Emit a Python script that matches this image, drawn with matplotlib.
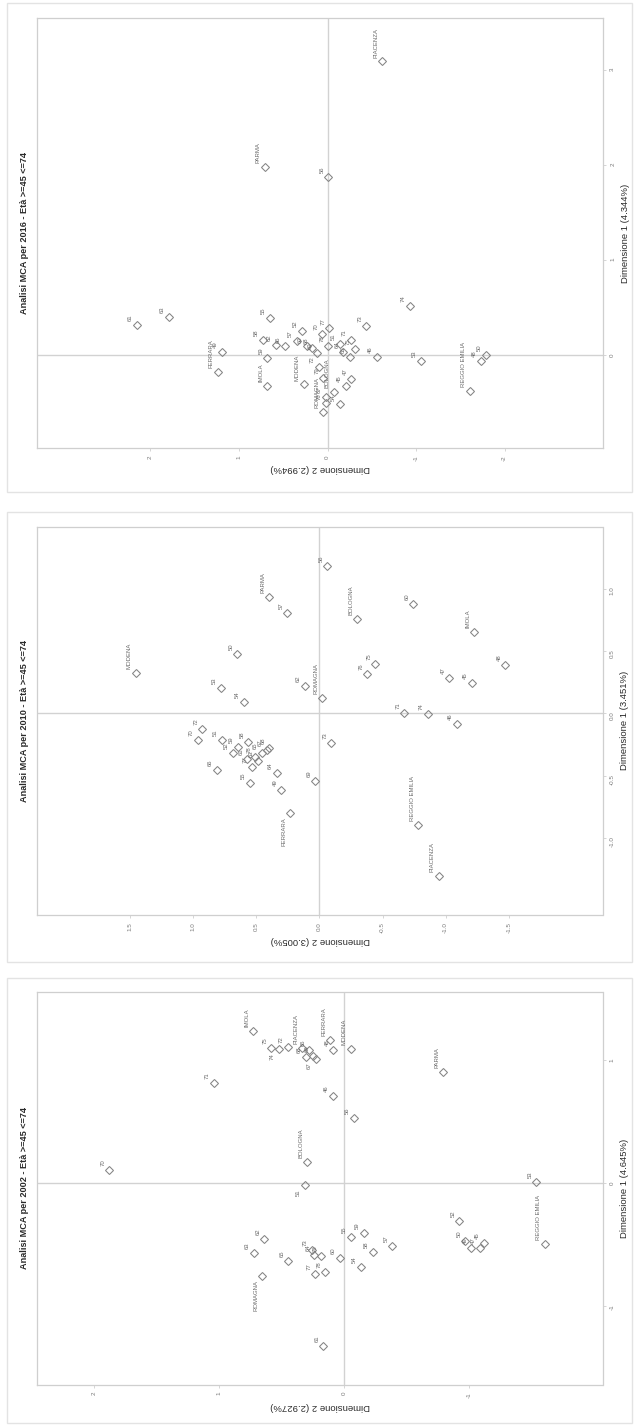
import matplotlib
matplotlib.use('Agg')
import matplotlib.pyplot as plt
from matplotlib.patches import Rectangle

plt.rcParams['font.family'] = ['Liberation Sans', 'DejaVu Sans']

# ---------------- data (Dim1 = vertical, Dim2 = horizontal) ----------------
# 2016
p16_labels = ["PIACENZA", "PARMA", "REGGIO EMILIA", "MODENA", "BOLOGNA", "ROMAGNA", "IMOLA", "FERRARA",
              "56", "74", "61", "63", "55", "73", "52", "77", "70", "58", "62", "66", "57", "60", "68",
              "78", "51", "71", "75", "64", "65", "69", "46", "53", "48", "50", "49", "59", "72", "47",
              "45", "54", "67", "76", "79"]
p16_dim1 = [3.09, 1.98, -0.38, -0.31, -0.39, -0.60, -0.33, -0.18,
            1.87, 0.52, 0.32, 0.40, 0.39, 0.31, 0.25, 0.28, 0.22, 0.16, 0.11, 0.09, 0.15, 0.09, 0.07,
            0.10, 0.12, 0.16, 0.06, 0.03, -0.02, 0.02, -0.02, -0.06, -0.06, 0.00, 0.03, -0.03, -0.13, -0.25,
            -0.33, -0.52, -0.44, -0.51, -0.24]
p16_dim2 = [-0.62, 0.71, -1.61, 0.27, -0.07, 0.05, 0.68, 1.24,
            -0.01, -0.93, 2.15, 1.79, 0.65, -0.44, 0.29, -0.02, 0.06, 0.73, 0.58, 0.48, 0.35, 0.23, 0.17,
            -0.01, -0.14, -0.26, -0.31, -0.18, -0.25, 0.12, -0.56, -1.05, -1.73, -1.79, 1.19, 0.68, 0.10, -0.27,
            -0.21, -0.14, 0.02, 0.02, 0.05]
p16_below = []

# 2010
p10_labels = ["PARMA", "BOLOGNA", "IMOLA", "MODENA", "ROMAGNA", "REGGIO EMILIA", "PIACENZA", "FERRARA",
              "56", "57", "60", "50", "53", "54", "62", "75", "76", "47", "48", "45", "71", "74", "46",
              "73", "69", "49", "64", "72", "70", "51", "59", "52", "58", "66", "61", "63", "65", "67",
              "68", "55", "77", "78"]
p10_dim1 = [0.936, 0.754, 0.652, 0.321, 0.126, -0.896, -1.305, -0.802,
            1.184, 0.802, 0.874, 0.473, 0.201, 0.094, 0.219, 0.393, 0.313, 0.281, 0.388, 0.241, 0.005, -0.003, -0.086,
            -0.241, -0.543, -0.615, -0.481, -0.123, -0.214, -0.214, -0.268, -0.316, -0.228, -0.455, -0.366, -0.380, -0.321, -0.294,
            -0.281, -0.561, -0.428, -0.348]
p10_dim2 = [0.397, -0.298, -1.224, 1.455, -0.022, -0.785, -0.946, 0.231,
            -0.064, 0.253, -0.744, 0.651, 0.782, 0.596, 0.115, -0.442, -0.381, -1.029, -1.474, -1.208, -0.673, -0.859, -1.090,
            -0.093, 0.032, 0.301, 0.337, 0.928, 0.964, 0.774, 0.647, 0.687, 0.563, 0.814, 0.571, 0.489, 0.457, 0.418,
            0.397, 0.550, 0.536, 0.510]
p10_below = ["FERRARA"]

# 2002
p02_labels = ["IMOLA", "PIACENZA", "FERRARA", "MODENA", "PARMA", "BOLOGNA", "REGGIO EMILIA", "ROMAGNA",
              "75", "74", "72", "68", "69", "67", "66", "48", "71", "46", "56", "70", "51", "53", "52",
              "50", "49", "47", "45", "55", "59", "58", "57", "54", "60", "62", "63", "65", "73", "64",
              "76", "77", "78", "61"]
p02_dim1 = [1.238, 1.103, 1.165, 1.095, 0.908, 0.171, -0.496, -0.753,
            1.098, 1.089, 1.111, 1.030, 1.035, 1.011, 1.084, 1.084, 0.818, 0.713, 0.528, 0.108, -0.016, 0.008, -0.306,
            -0.466, -0.523, -0.523, -0.482, -0.439, -0.407, -0.556, -0.509, -0.678, -0.610, -0.455, -0.569, -0.631, -0.542, -0.583,
            -0.591, -0.737, -0.718, -1.320]
p02_dim2 = [0.731, 0.338, 0.114, -0.049, -0.789, 0.299, -1.601, 0.656,
            0.584, 0.526, 0.455, 0.308, 0.250, 0.227, 0.282, 0.088, 1.045, 0.091, -0.075, 1.883, 0.315, -1.536, -0.919,
            -0.968, -1.016, -1.081, -1.114, -0.052, -0.156, -0.227, -0.383, -0.130, 0.039, 0.640, 0.727, 0.448, 0.260, 0.240,
            0.185, 0.234, 0.153, 0.169]
p02_below = ["ROMAGNA", "74", "67", "51"]

titles = ["Analisi MCA per 2016 - Età >=45 <=74",
          "Analisi MCA per 2010 - Età >=45 <=74",
          "Analisi MCA per 2002 - Età >=45 <=74"]
dim1_labels = ["Dimensione 1 (4.344%)", "Dimensione 1 (3.451%)", "Dimensione 1 (4.645%)"]
dim2_labels = ["Dimensione 2 (2.994%)", "Dimensione 2 (3.005%)", "Dimensione 2 (2.927%)"]

dim1_ticks = [[0, 1, 2, 3], [-1.0, -0.5, 0.0, 0.5, 1.0], [-1, 0, 1]]
dim1_ticklabels = [["0", "1", "2", "3"], ["-1.0", "-0.5", "0.0", "0.5", "1.0"], ["-1", "0", "1"]]
dim2_ticks = [[-2, -1, 0, 1, 2], [-1.5, -1.0, -0.5, 0.0, 0.5, 1.0, 1.5], [-1, 0, 1, 2]]
dim2_ticklabels = [["-2", "-1", "0", "1", "2"], ["-1.5", "-1.0", "-0.5", "0.0", "0.5", "1.0", "1.5"],
                   ["-1", "0", "1", "2"]]

# ---------------- layout ----------------
W, H = 634, 1426
fig = plt.figure(figsize=(W / 100, H / 100), dpi=100)
fig.patch.set_facecolor('white')


def fx(px):
    return px / W


def fy(py):
    return 1 - py / H


# (left, top, right, bottom) pixel boxes of the plotting areas
axes_px = [(37.2, 18.3, 603.3, 448.3), (37.2, 526.7, 602.5, 915.0), (37.2, 991.7, 602.5, 1385.0)]
frames_px = [(7, 3, 632, 492), (7, 512, 632, 962), (7, 978, 632, 1423)]
dim1_lims = [(-0.982, 3.544), (-1.617, 1.496), (-1.640, 1.558)]
dim2_lims = [(3.277, -3.113), (2.236, -2.243), (2.458, -2.064)]
bottom_label_off = [20, 26, 22]

data = [(p16_labels, p16_dim1, p16_dim2, p16_below),
        (p10_labels, p10_dim1, p10_dim2, p10_below),
        (p02_labels, p02_dim1, p02_dim2, p02_below)]

GRID = '#d2d2d2'
MARK = '#848484'
TXT = '#6a6a6a'

for i in range(3):
    l, t, r, b = axes_px[i]
    fl, ft, fr, fb = frames_px[i]
    fig.patches.append(Rectangle((fx(fl), fy(fb)), fx(fr) - fx(fl), fy(ft) - fy(fb),
                                 transform=fig.transFigure, fill=False,
                                 edgecolor='#e3e3e3', linewidth=1.0, zorder=0))
    ax = fig.add_axes([fx(l), fy(b), fx(r) - fx(l), fy(t) - fy(b)])
    labels, d1, d2, below = data[i]
    ax.set_xlim(*dim2_lims[i])
    ax.set_ylim(*dim1_lims[i])
    ax.axhline(0, color=GRID, lw=1.0, zorder=1)
    ax.axvline(0, color=GRID, lw=1.0, zorder=1)
    ax.plot(d2, d1, linestyle='none', marker='D', markersize=4.2, markerfacecolor='none',
            markeredgecolor=MARK, markeredgewidth=0.75, zorder=3)
    for lab, y, x in zip(labels, d1, d2):
        if lab in below:
            ax.annotate(lab, (x, y), xytext=(-2.8, -2.8), textcoords='offset points',
                        rotation=90, ha='right', va='top', fontsize=4.3, color=TXT)
        else:
            ax.annotate(lab, (x, y), xytext=(-2.8, 2.8), textcoords='offset points',
                        rotation=90, ha='right', va='bottom', fontsize=4.3, color=TXT)
    for s in ax.spines.values():
        s.set_color('#cfcfcf')
        s.set_linewidth(0.9)
    ax.yaxis.tick_right()
    ax.set_yticks(dim1_ticks[i])
    ax.set_yticklabels(dim1_ticklabels[i])
    ax.set_xticks(dim2_ticks[i])
    ax.set_xticklabels(dim2_ticklabels[i])
    ax.tick_params(axis='both', length=2, width=0.6, color='#cfcfcf', labelsize=4.5,
                   labelcolor='#7a7a7a', labelrotation=90, pad=3)

    cy = (t + b) / 2
    cx = (l + r) / 2
    fig.text(fx(l - 13), fy(cy), titles[i], rotation=90, ha='center', va='center',
             fontsize=6.6, fontweight='bold', color='#2a2a2a')
    fig.text(fx(r + 22), fy(cy), dim1_labels[i], rotation=90, ha='center', va='center',
             fontsize=6.8, color='#2a2a2a')
    fig.text(fx(cx), fy(b + bottom_label_off[i]), dim2_labels[i], rotation=180, ha='center',
             va='center', fontsize=6.8, color='#2a2a2a')

fig.savefig('out.png', dpi=100, facecolor='white')
